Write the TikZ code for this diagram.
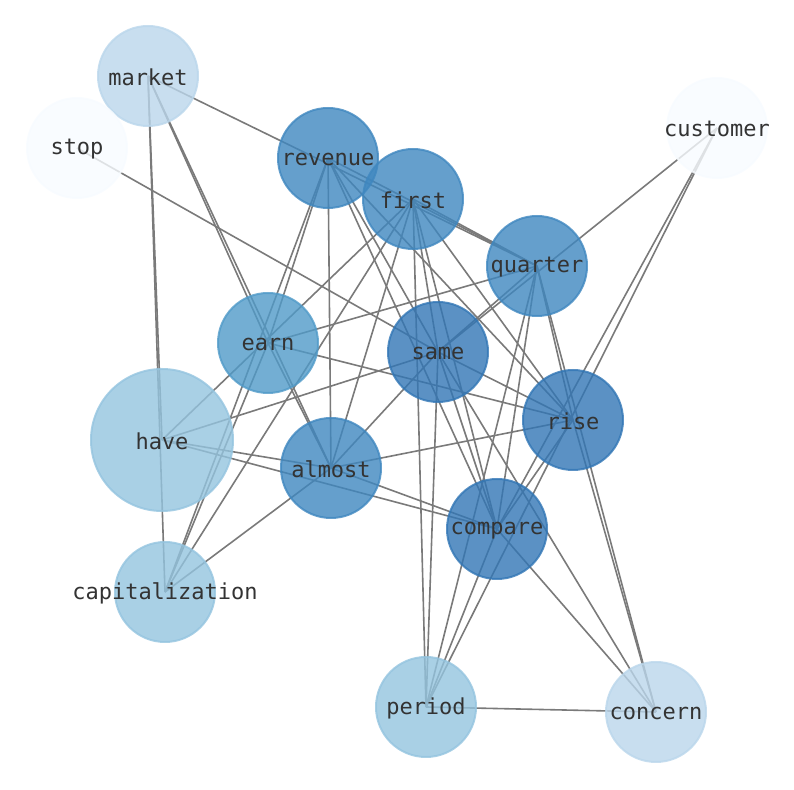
\documentclass[tikz,border=0pt]{standalone}
\usepackage{fontspec}
\usepackage{xcolor}
\usepackage{tikz}
\usetikzlibrary{positioning,backgrounds}
\newfontfamily\wordfont{DejaVu Sans Mono}
\definecolor{blues0}{HTML}{F7FBFF}
\definecolor{blues1}{HTML}{BAD6EB}
\definecolor{blues2}{HTML}{94C4DF}
\definecolor{blues3}{HTML}{509AC8}
\definecolor{blues4}{HTML}{3F87BF}
\definecolor{blues5}{HTML}{3276B5}
\definecolor{linkgray}{HTML}{7A7A7A}
\definecolor{bk80}{HTML}{333333}
\tikzset{
  wordnode/.style={
    circle, draw=#1, fill=#1, line width=1pt,
    fill opacity=0.8, draw opacity=0.8,
    minimum size=50pt, inner sep=0pt
  },
  wordnode/.default=blues4,
  wordtext/.style={
    font=\wordfont\fontsize{11}{13}\selectfont, text=bk80,
    text opacity=1, inner sep=0pt, yshift=-0.6pt
  },
  cooclink/.style={draw=linkgray, line width=0.8pt},
}

\begin{document}
\begin{tikzpicture}[x=0.5pt, y=-0.5pt]
  \useasboundingbox (0,0) rectangle (794,790);
  % words
  \node[wordnode=blues1, label={[wordtext]center:market}] (market) at (148,76) {};
  \node[wordnode=blues0, label={[wordtext]center:stop}] (stop) at (77,148) {};
  \node[wordnode=blues0, label={[wordtext]center:customer}] (customer) at (717,128) {};
  \node[wordnode=blues4, label={[wordtext]center:revenue}] (revenue) at (328,158) {};
  \node[wordnode=blues4, label={[wordtext]center:first}] (first) at (413,199) {};
  \node[wordnode=blues4, label={[wordtext]center:quarter}] (quarter) at (537,266) {};
  \node[wordnode=blues3, label={[wordtext]center:earn}] (earn) at (268,343) {};
  \node[wordnode=blues5, label={[wordtext]center:same}] (same) at (438,352) {};
  \node[wordnode=blues5, label={[wordtext]center:rise}] (rise) at (573,420) {};
  \node[wordnode=blues2, minimum size=71pt, label={[wordtext]center:have}] (have) at (162,440) {};
  \node[wordnode=blues4, label={[wordtext]center:almost}] (almost) at (331,468) {};
  \node[wordnode=blues5, label={[wordtext]center:compare}] (compare) at (497,529) {};
  \node[wordnode=blues2, label={[wordtext]center:capitalization}] (capitalization) at (165,592) {};
  \node[wordnode=blues2, label={[wordtext]center:period}] (period) at (426,707) {};
  \node[wordnode=blues1, label={[wordtext]center:concern}] (concern) at (656,712) {};
  % co-occurrence links behind the words
  \begin{pgfonlayer}{background}
    \foreach \a/\b in {market/quarter, market/earn, market/almost, market/have,
        market/capitalization, stop/same, customer/same, customer/compare,
        customer/period, revenue/quarter, revenue/earn, revenue/capitalization,
        revenue/almost, revenue/compare, revenue/rise, revenue/same,
        first/quarter, first/have, first/capitalization, first/almost,
        first/period, first/same, first/compare, first/rise,
        quarter/earn, quarter/same, quarter/period, quarter/compare,
        quarter/rise, quarter/concern, earn/rise, earn/capitalization,
        earn/almost, same/have, same/almost, same/period, same/compare,
        same/concern, same/rise, rise/almost, rise/compare, rise/concern,
        have/almost, have/compare, almost/capitalization, almost/compare,
        compare/period, compare/concern, period/concern}
      \draw[cooclink] (\a.center) -- (\b.center);
  \end{pgfonlayer}
\end{tikzpicture}
\end{document}
